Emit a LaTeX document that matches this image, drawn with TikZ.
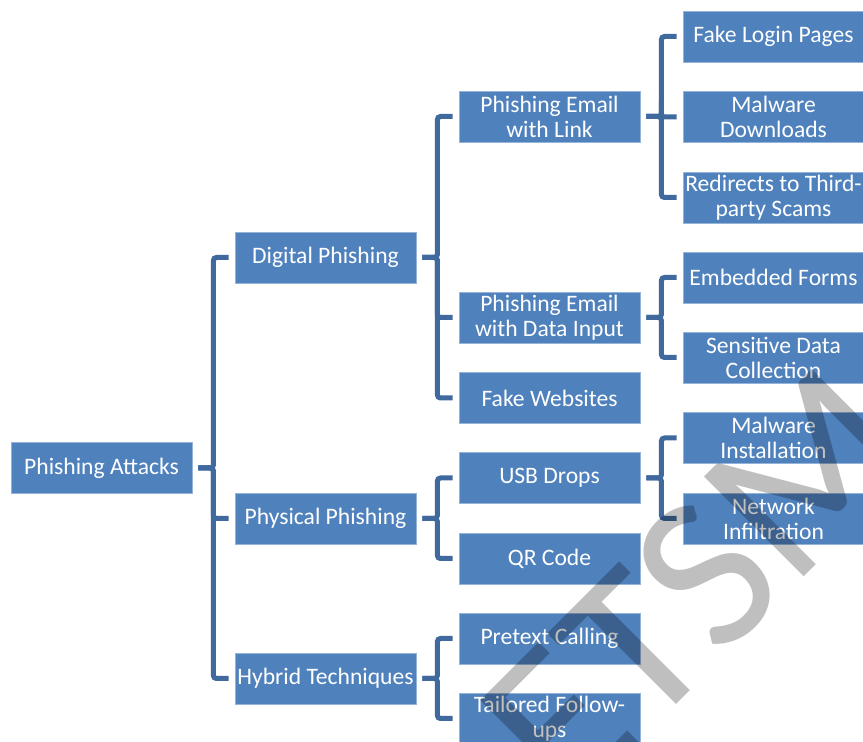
\documentclass[tikz,border=0pt]{standalone}
\usepackage{fontspec}
\setmainfont{Carlito}
\definecolor{boxblue}{RGB}{79,129,189}
\definecolor{linkblue}{RGB}{64,105,158}
\definecolor{rimblue}{RGB}{150,180,218}
\tikzset{
  item/.style={fill=boxblue, draw=rimblue, line width=.4pt, text=white,
    minimum width=90.5pt, minimum height=25.5pt, inner sep=0pt, align=center,
    font=\fontsize{11.8}{12.5}\selectfont},
  link/.style={draw=linkblue, line width=2.5pt, rounded corners=1.5pt}
}
\begin{document}
\begin{tikzpicture}[x=.5pt, y=-.5pt]
\useasboundingbox (0,0) rectangle (863,742);
\fill[white] (0,0) rectangle (863,742);

\node[item] (R) at (101.5,468) {Phishing Attacks};

\node[item] (A1) at (325.5,257.5) {Digital Phishing};
\node[item] (A2) at (325.5,518.5) {Physical Phishing};
\node[item] (A3) at (325.5,678.5) {Hybrid Techniques};

\node[item] (B1) at (549.5,116.5) {Phishing Email\\with Link};
\node[item] (B2) at (549.5,317.5) {Phishing Email\\with Data Input};
\node[item] (B3) at (549.5,398) {Fake Websites};
\node[item] (B4) at (549.5,478) {USB Drops};
\node[item] (B5) at (549.5,558.5) {QR Code};
\node[item] (B6) at (549.5,638.5) {Pretext Calling};
\node[item] (B7) at (549.5,718.5) {Tailored Follow-\\ups};

\node[item] (C1) at (773.5,36.5) {Fake Login Pages};
\node[item] (C2) at (773.5,117) {Malware\\Downloads};
\node[item] (C3) at (773.5,197.5) {Redirects to Third-\\party Scams};
\node[item] (C4) at (773.5,277.5) {Embedded Forms};
\node[item] (C5) at (773.5,357.5) {Sensitive Data\\Collection};
\node[item] (C6) at (773.5,438) {Malware\\Installation};
\node[item] (C7) at (773.5,518.5) {Network\\Infiltration};

\foreach \p/\c in {R/A1,R/A2,R/A3,A1/B1,A1/B2,A1/B3,A2/B4,A2/B5,A3/B6,A3/B7,
    B1/C1,B1/C2,B1/C3,B2/C4,B2/C5,B4/C6,B4/C7}
{
    \draw[link] ([xshift=3pt]\p.east) -- ++(15,0) |- ([xshift=-3pt]\c.west);
}

\node[rotate=45, anchor=base west, text=black, text opacity=.25, inner sep=0pt,
  font=\fontsize{110}{110}\selectfont] (W) at (569.2,811.8) {ETSM};
\end{tikzpicture}
\end{document}
